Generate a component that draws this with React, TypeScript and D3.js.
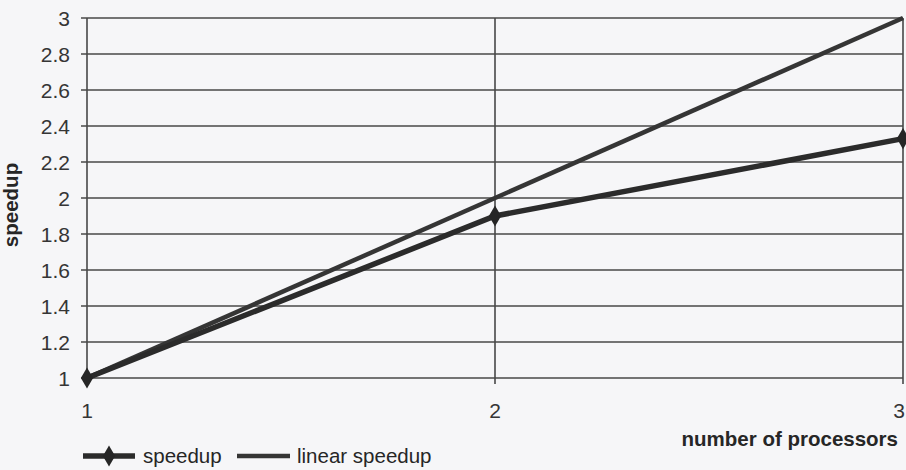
import React from "react";
import * as d3 from "d3";

const processors = [1, 2, 3];
const speedup = [1, 1.9, 2.33];
const linearSpeedup = [1, 2, 3];
const yTicks = [1, 1.2, 1.4, 1.6, 1.8, 2, 2.2, 2.4, 2.6, 2.8, 3];
const yTickLabels = ["1", "1.2", "1.4", "1.6", "1.8", "2", "2.2", "2.4", "2.6", "2.8", "3"];
const xTickLabels = ["1", "2", "3"];
const seriesNames = ["speedup", "linear speedup"];

const W = 906;
const H = 470;
const FONT = "'Liberation Sans', Arial, sans-serif";

export default function App() {
  const x = d3.scaleLinear().domain([1, 3]).range([87, 903]);
  const y = d3.scaleLinear().domain([1, 3]).range([378, 18]);
  const line = d3
    .line<number>()
    .x((_, i) => x(processors[i]))
    .y((d) => y(d));
  const diamond = d3.symbol().type(d3.symbolDiamond).size(130)();

  return (
    <svg
      width={W}
      height={H}
      style={{ position: "absolute", left: 0, top: 0, background: "#f6f6f8" }}
      fontFamily={FONT}
    >
      {yTicks.map((t, i) => (
        <g key={"g" + i}>
          <line x1={81} x2={x(3)} y1={y(t)} y2={y(t)} stroke="#484848" strokeWidth={1.6} />
          <text x={70} y={y(t)} dy="0.36em" textAnchor="end" fontSize={21} fill="#353535">
            {yTickLabels[i]}
          </text>
        </g>
      ))}
      {processors.map((p, i) => (
        <line key={"v" + i} x1={x(p)} x2={x(p)} y1={y(3)} y2={y(1) + 6} stroke="#484848" strokeWidth={1.6} />
      ))}
      {processors.map((p, i) => (
        <text
          key={"xt" + i}
          x={i === 2 ? x(p) - 4 : x(p)}
          y={418}
          textAnchor="middle"
          fontSize={21}
          fill="#353535"
        >
          {xTickLabels[i]}
        </text>
      ))}
      <path d={line(linearSpeedup) || ""} fill="none" stroke="#353535" strokeWidth={4.5} />
      <path d={line(speedup) || ""} fill="none" stroke="#2b2b2b" strokeWidth={5.5} />
      {speedup.map((v, i) => (
        <path key={"m" + i} d={diamond || ""} transform={`translate(${x(processors[i])},${y(v)})`} fill="#262626" />
      ))}
      <text
        transform={`translate(18,205) rotate(-90)`}
        textAnchor="middle"
        fontSize={20.5}
        fontWeight="bold"
        fill="#262626"
      >
        speedup
      </text>
      <text x={898} y={446} textAnchor="end" fontSize={20.5} fontWeight="bold" fill="#262626">
        number of processors
      </text>
      <line x1={83} x2={135} y1={456} y2={456} stroke="#2b2b2b" strokeWidth={5.5} />
      <path d={diamond || ""} transform="translate(109,456)" fill="#262626" />
      <text x={143} y={463} fontSize={20.5} fill="#262626">
        {seriesNames[0]}
      </text>
      <line x1={237} x2={290} y1={456} y2={456} stroke="#353535" strokeWidth={4.5} />
      <text x={297} y={463} fontSize={20.5} fill="#262626">
        {seriesNames[1]}
      </text>
    </svg>
  );
}
